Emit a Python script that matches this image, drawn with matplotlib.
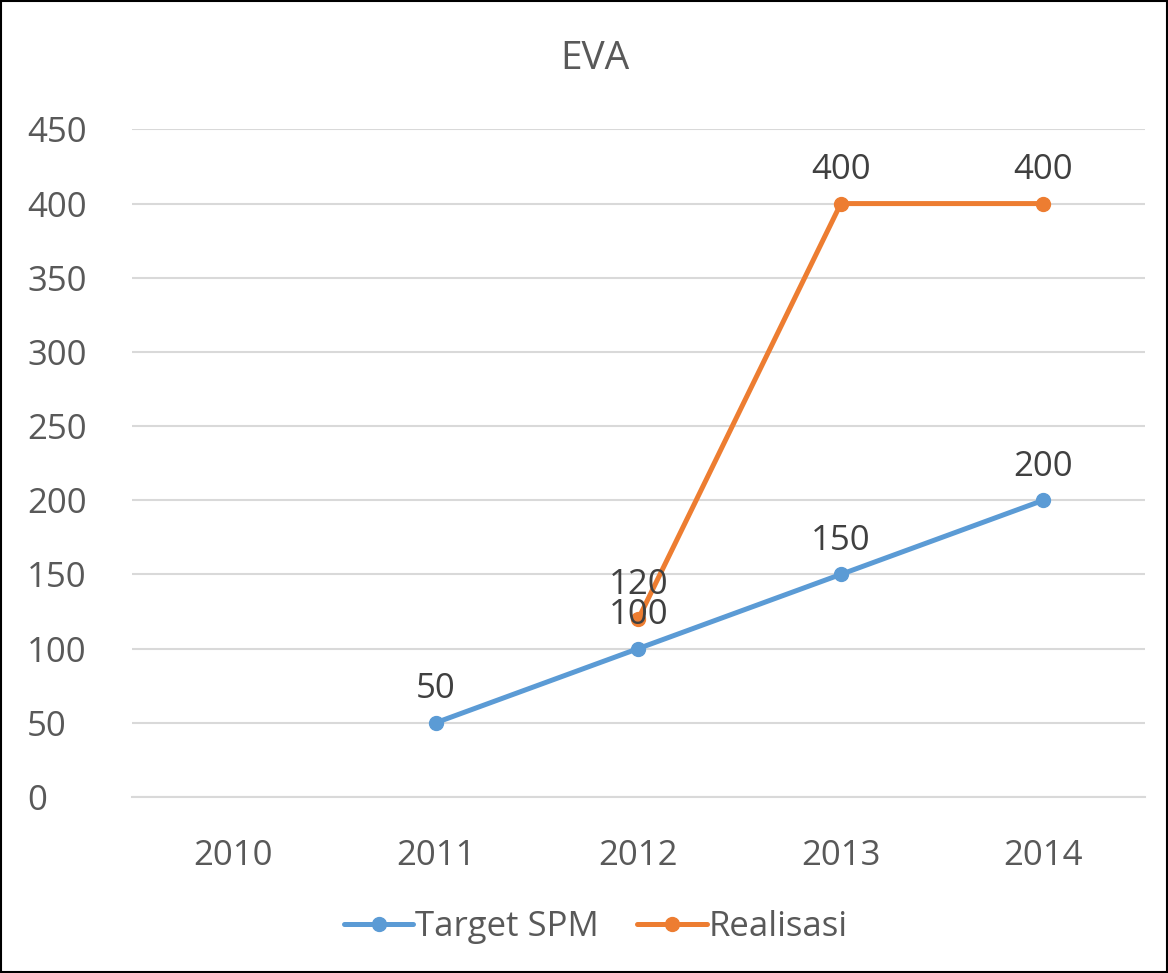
import numpy as np
import matplotlib
matplotlib.use("Agg")
import matplotlib.pyplot as plt
from matplotlib.patches import Rectangle
from matplotlib.transforms import blended_transform_factory

plt.rcParams['font.family'] = ['Open Sans', 'DejaVu Sans']

years = ["2010", "2011", "2012", "2013", "2014"]
target_spm = [np.nan, 50, 100, 150, 200]
realisasi = [np.nan, np.nan, 120, 400, 400]

BLUE = "#5B9BD5"
ORANGE = "#ED7D31"
GRID = "#D9D9D9"
TICK = "#595959"
LABEL = "#404040"

fig = plt.figure(figsize=(11.68, 9.73), dpi=100)
ax = fig.add_axes([0.113, 0.181, 0.867, 0.686])

x = np.arange(len(years))
ax.plot(x, target_spm, color=BLUE, lw=3.6, marker="o", ms=10, label="Target SPM",
        solid_capstyle="round", zorder=3)
ax.plot(x, realisasi, color=ORANGE, lw=3.6, marker="o", ms=10, label="Realisasi",
        solid_capstyle="round", zorder=3)

# data labels above each point
for series in (target_spm, realisasi):
    for xi, v in zip(x, series):
        if not np.isnan(v):
            ax.annotate(f"{v:g}", (xi, v), xytext=(0, 12), textcoords="offset points",
                        ha="center", va="bottom", fontsize=25, color=LABEL)

ax.set_xlim(-0.5, len(years) - 0.5)
ax.set_ylim(0, 450)
ax.set_yticks(np.arange(0, 451, 50))
ax.set_xticks(x)
ax.set_xticklabels(years)
ax.grid(axis="y", color=GRID, lw=1.5)
ax.set_axisbelow(True)
for s in ("top", "right", "left"):
    ax.spines[s].set_visible(False)
ax.spines["bottom"].set_color(GRID)
ax.spines["bottom"].set_linewidth(1.5)
ax.tick_params(axis="both", length=0, labelsize=25, colors=TICK)
ax.tick_params(axis="x", pad=30)
for lbl in ax.get_yticklabels():
    lbl.set_horizontalalignment("left")
    lbl.set_transform(blended_transform_factory(fig.transFigure, ax.transData))
    lbl.set_x(27 / 1168)

fig.text(0.509, 0.939, "EVA", ha="center", va="center", fontsize=28, color=TICK)

fig.legend(loc="center", bbox_to_anchor=(0.51, 0.047), ncol=2, frameon=False,
           fontsize=25, labelcolor=TICK, handlelength=2.0, handletextpad=0.05,
           columnspacing=1.1)

fig.add_artist(Rectangle((0.001, 0.001), 0.998, 0.998, transform=fig.transFigure,
                         fill=False, ec="black", lw=1.5))

fig.savefig("out.png", dpi=100, facecolor="white")
